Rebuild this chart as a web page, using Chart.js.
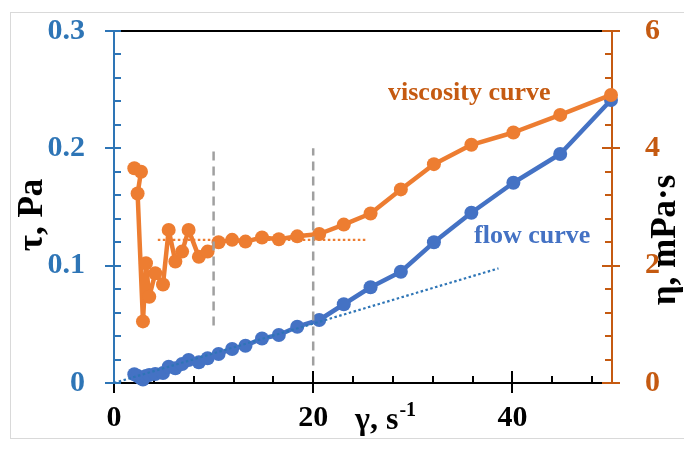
<!DOCTYPE html>
<html>
<head>
<meta charset="utf-8">
<script src="https://cdn.jsdelivr.net/npm/chart.js@4.4.1/dist/chart.umd.min.js"></script>
<style>
  html, body { margin: 0; padding: 0; background: #ffffff; }
  #wrap { width: 684px; height: 450px; position: relative; }
</style>
</head>
<body>
<div id="wrap"><canvas id="chart" width="684" height="450"></canvas></div>
<script>
// Shear rate γ, s^-1 (shared by both measured series)
const shearRate = [2.04, 2.71, 2.37, 2.91, 3.21, 3.54, 4.14, 4.92, 5.49, 6.16, 6.84, 7.49, 8.52, 9.40,
  10.5, 11.86, 13.2, 14.86, 16.55, 18.4, 20.6, 23.07, 25.76, 28.8, 32.12, 35.88, 40.1, 44.8, 49.9];
// Shear stress τ, Pa (flow curve)
const shearStress = [0.0074, 0.0040, 0.0060, 0.0030, 0.0060, 0.0068, 0.0077, 0.0085, 0.0139, 0.0125,
  0.0162, 0.0196, 0.0176, 0.0211, 0.0247, 0.0290, 0.0318, 0.0379, 0.0409, 0.0480, 0.0537, 0.0671,
  0.0816, 0.0948, 0.1199, 0.1451, 0.1707, 0.1952, 0.2412];
// Viscosity η, mPa·s (viscosity curve)
const viscosity = [3.66, 3.60, 3.23, 1.05, 2.04, 1.47, 1.87, 1.68, 2.61, 2.07, 2.24, 2.61, 2.15, 2.24,
  2.40, 2.44, 2.41, 2.48, 2.45, 2.50, 2.54, 2.70, 2.89, 3.30, 3.73, 4.06, 4.27, 4.57, 4.91];

// Guide lines
const regimeBounds = [10, 20];                 // γ of the dashed vertical markers
const regimeBoundSpans = [[0.049, 0.198], [0.015, 0.200]]; // τ extent of each marker
const plateauViscosity = 2.44;                 // η of the Newtonian plateau
const plateauRange = [4.4, 25.3];              // γ extent of the plateau line
const newtonSlope = 0.00253;                   // τ/γ of the Newtonian fit
const newtonRange = [0, 38.6];                 // γ extent of the fit line

// Axis tick labels
const xTicks = [0, 20, 40];
const tauTicks = [0, 0.1, 0.2, 0.3];
const etaTicks = [0, 2, 4, 6];

const BLUE = '#4472C4';
const ORANGE = '#ED7D31';
const AXIS_BLUE = '#2E75B6';
const AXIS_ORANGE = '#C55A11';
const SERIF = "'Liberation Serif', 'Times New Roman', serif";

const flowPoints = shearRate.map((g, i) => ({ x: g, y: shearStress[i] }));
const viscPoints = shearRate.map((g, i) => ({ x: g, y: viscosity[i] }));

const guideSets = [];
regimeBounds.forEach((g, i) => {
  guideSets.push({
    data: [{ x: g, y: regimeBoundSpans[i][0] }, { x: g, y: regimeBoundSpans[i][1] }],
    yAxisID: 'y', showLine: true, borderColor: '#A0A0A0', borderWidth: 2.5,
    borderDash: [9, 6], pointRadius: 0, clip: false
  });
});
guideSets.push({
  data: [{ x: plateauRange[0], y: plateauViscosity }, { x: plateauRange[1], y: plateauViscosity }],
  yAxisID: 'y2', showLine: true, borderColor: ORANGE, borderWidth: 2.2,
  borderDash: [2.5, 2.5], pointRadius: 0, clip: false
});
guideSets.push({
  data: [{ x: newtonRange[0], y: newtonRange[0] * newtonSlope }, { x: newtonRange[1], y: newtonRange[1] * newtonSlope }],
  yAxisID: 'y', showLine: true, borderColor: '#2E75B6', borderWidth: 2.2,
  borderDash: [2.5, 2.5], pointRadius: 0, clip: false
});

// Keep the plot area fixed: no extra room reserved for overhanging tick labels
function noOverhang(s) {
  s.paddingTop = 0; s.paddingBottom = 0; s.paddingLeft = 0; s.paddingRight = 0;
}

// Frame, axis lines, minor/major tick marks drawn from the chart's own scales
const decorations = {
  id: 'decorations',
  beforeDraw(chart) {
    const ctx = chart.ctx;
    ctx.save();
    ctx.fillStyle = '#ffffff';
    ctx.fillRect(0, 0, chart.width, chart.height);
    ctx.strokeStyle = '#D9D9D9';
    ctx.lineWidth = 1;
    ctx.strokeRect(10.5, 12.5, 690, 426);
    ctx.restore();
  },
  beforeDatasetsDraw(chart) {
    const ctx = chart.ctx;
    const { left, right, top, bottom } = chart.chartArea;
    const xs = chart.scales.x, ys = chart.scales.y, y2 = chart.scales.y2;
    ctx.save();
    // top border
    ctx.strokeStyle = '#000000';
    ctx.lineWidth = 2;
    ctx.beginPath(); ctx.moveTo(left, top); ctx.lineTo(right, top); ctx.stroke();
    // x axis line and ticks
    ctx.beginPath(); ctx.moveTo(left - 9, bottom); ctx.lineTo(right, bottom); ctx.stroke();
    for (let v = 0; v <= 48; v += 4) {
      const px = Math.round(xs.getPixelForValue(v));
      const major = xTicks.includes(v);
      ctx.beginPath();
      ctx.moveTo(px, major ? bottom - 12 : bottom - 7);
      ctx.lineTo(px, major ? bottom + 10 : bottom);
      ctx.stroke();
    }
    // left axis (τ)
    ctx.strokeStyle = AXIS_BLUE;
    ctx.beginPath(); ctx.moveTo(left, top); ctx.lineTo(left, bottom); ctx.stroke();
    for (let k = 0; k <= 15; k++) {
      const v = k * 0.02;
      const py = Math.round(ys.getPixelForValue(v));
      const major = k % 5 === 0;
      ctx.beginPath();
      ctx.moveTo(major ? left - 9 : left, py);
      ctx.lineTo(left + 7, py);
      ctx.stroke();
    }
    // right axis (η)
    ctx.strokeStyle = AXIS_ORANGE;
    ctx.beginPath(); ctx.moveTo(right, top); ctx.lineTo(right, bottom); ctx.stroke();
    for (let k = 0; k <= 15; k++) {
      const v = k * 0.4;
      const py = Math.round(y2.getPixelForValue(v));
      const major = k % 5 === 0;
      ctx.beginPath();
      ctx.moveTo(right - (major ? 10 : 7), py);
      ctx.lineTo(major ? right + 8 : right, py);
      ctx.stroke();
    }
    ctx.restore();
  },
  afterDraw(chart) {
    const ctx = chart.ctx;
    ctx.save();
    // axis titles
    ctx.fillStyle = '#000000';
    ctx.font = 'bold 35px ' + SERIF;
    ctx.textAlign = 'center';
    ctx.textBaseline = 'middle';
    ctx.save();
    ctx.translate(33, 215);
    ctx.rotate(-Math.PI / 2);
    ctx.fillText('τ, Pa', 0, 0);
    ctx.restore();
    ctx.save();
    ctx.translate(666, 240);
    ctx.rotate(-Math.PI / 2);
    ctx.fillText('η, mPa·s', 0, 0);
    ctx.restore();
    // x title with superscript
    ctx.textAlign = 'left';
    ctx.textBaseline = 'alphabetic';
    ctx.font = 'bold 32px ' + SERIF;
    const base = 'γ, s';
    ctx.fillText(base, 355, 429);
    const w = ctx.measureText(base).width;
    ctx.font = 'bold 20px ' + SERIF;
    ctx.fillText('-1', 355 + w + 1, 416);
    // curve captions
    ctx.font = 'bold 26px ' + SERIF;
    ctx.fillStyle = AXIS_ORANGE;
    ctx.fillText('viscosity curve', 388, 100);
    ctx.fillStyle = BLUE;
    ctx.fillText('flow curve', 474, 243);
    ctx.restore();
  }
};

new Chart(document.getElementById('chart'), {
  type: 'scatter',
  data: {
    datasets: [
      ...guideSets,
      {
        label: 'viscosity curve', data: viscPoints, yAxisID: 'y2', showLine: true,
        borderColor: ORANGE, backgroundColor: ORANGE, borderWidth: 4.5,
        borderJoinStyle: 'round', borderCapStyle: 'round',
        pointRadius: 7, pointBorderWidth: 0, clip: false
      },
      {
        label: 'flow curve', data: flowPoints, yAxisID: 'y', showLine: true,
        borderColor: BLUE, backgroundColor: BLUE, borderWidth: 4.5,
        borderJoinStyle: 'round', borderCapStyle: 'round',
        pointRadius: 7, pointBorderWidth: 0, clip: false
      }
    ]
  },
  options: {
    responsive: false,
    animation: false,
    events: [],
    layout: { padding: { top: 31, left: 0, right: 0, bottom: 0 } },
    plugins: { legend: { display: false }, tooltip: { enabled: false } },
    scales: {
      x: {
        type: 'linear', min: 0, max: 50,
        grid: { display: false }, border: { display: false },
        afterBuildTicks: s => { s.ticks = xTicks.map(v => ({ value: v })); },
        afterFit: s => { s.height = 450 - 383; noOverhang(s); },
        ticks: { padding: 9, color: '#000000', font: { family: SERIF, size: 30, weight: 'bold' } }
      },
      y: {
        type: 'linear', position: 'left', min: 0, max: 0.3,
        grid: { display: false }, border: { display: false },
        afterBuildTicks: s => { s.ticks = tauTicks.map(v => ({ value: v })); },
        afterFit: s => { s.width = 114; noOverhang(s); },
        ticks: {
          padding: 21, color: AXIS_BLUE, font: { family: SERIF, size: 30, weight: 'bold' },
          callback: v => v === 0 ? '0' : v.toFixed(1)
        }
      },
      y2: {
        type: 'linear', position: 'right', min: 0, max: 6,
        grid: { display: false }, border: { display: false },
        afterBuildTicks: s => { s.ticks = etaTicks.map(v => ({ value: v })); },
        afterFit: s => { s.width = 684 - 612; noOverhang(s); },
        ticks: { padding: 25, color: AXIS_ORANGE, font: { family: SERIF, size: 30, weight: 'bold' } }
      }
    }
  },
  plugins: [decorations]
});
</script>
</body>
</html>
